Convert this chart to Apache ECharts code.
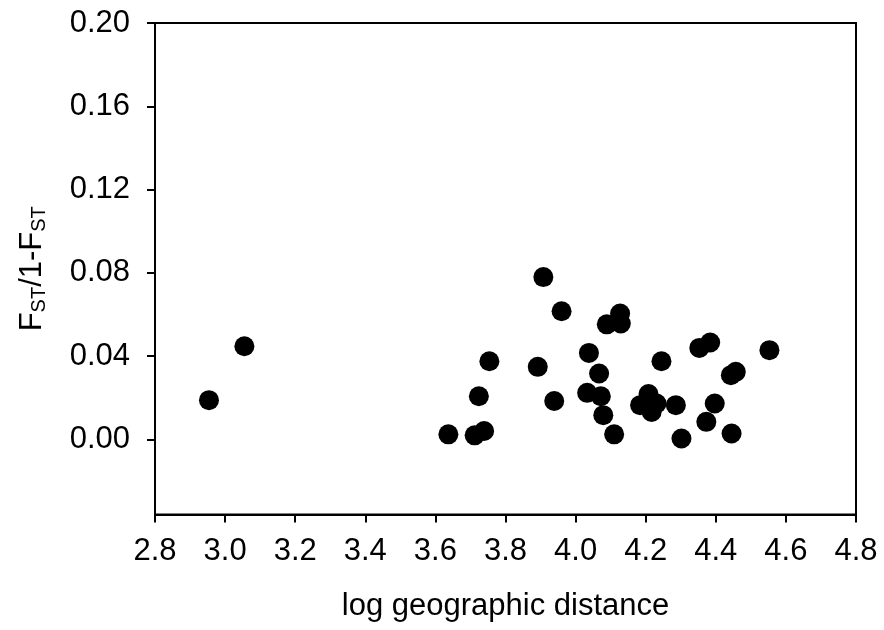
<!DOCTYPE html>
<html>
<head>
<meta charset="utf-8">
<script src="https://cdn.jsdelivr.net/npm/echarts@6/dist/echarts.min.js"></script>
<style>
html,body{margin:0;padding:0;background:#fff;}
#chart{width:884px;height:630px;}
</style>
</head>
<body>
<div id="chart"></div>
<script>
// log geographic distance
const logDistance = [2.954, 3.055, 3.637, 3.712, 3.739, 3.724, 3.754, 3.892, 3.908, 3.939,
  3.960, 4.033, 4.038, 4.067, 4.072, 4.079, 4.089, 4.110, 4.127, 4.129,
  4.184, 4.208, 4.217, 4.231, 4.245, 4.286, 4.302, 4.353, 4.373, 4.384,
  4.397, 4.443, 4.445, 4.457, 4.553];
// FST/(1-FST)
const fstRatio = [0.0189, 0.0448, 0.0025, 0.0020, 0.0041, 0.0208, 0.0376, 0.0349, 0.0780, 0.0185,
  0.0616, 0.0224, 0.0416, 0.0317, 0.0208, 0.0117, 0.0553, 0.0025, 0.0605, 0.0557,
  0.0165, 0.0218, 0.0132, 0.0173, 0.0376, 0.0165, 0.0005, 0.0440, 0.0085, 0.0466,
  0.0173, 0.0309, 0.0029, 0.0325, 0.0429];
const yTicks = [0, 0.04, 0.08, 0.12, 0.16, 0.20];
const xTicks = [2.8, 3.0, 3.2, 3.4, 3.6, 3.8, 4.0, 4.2, 4.4, 4.6, 4.8];

const points = logDistance.map((x, i) => [x, fstRatio[i]]);
const FONT = 'Liberation Sans, Arial, sans-serif';

const chart = echarts.init(document.getElementById('chart'), null, {renderer: 'canvas'});
chart.setOption({
  animation: false,
  backgroundColor: '#fff',
  grid: {
    left: 155, top: 23, width: 701, height: 491.5,
    show: true, borderColor: '#000', borderWidth: 2, backgroundColor: 'transparent'
  },
  xAxis: {
    type: 'value',
    min: xTicks[0], max: xTicks[xTicks.length - 1], interval: 0.2,
    name: 'log geographic distance',
    nameLocation: 'middle', nameGap: 76,
    nameTextStyle: {fontFamily: FONT, fontSize: 31, color: '#000'},
    axisLine: {show: true, onZero: false, lineStyle: {color: '#000', width: 2}},
    axisTick: {show: true, inside: false, length: 8, lineStyle: {color: '#000', width: 2}},
    axisLabel: {
      fontFamily: FONT, fontSize: 31, color: '#000', margin: 21,
      formatter: v => v.toFixed(1)
    },
    splitLine: {show: false}
  },
  yAxis: {
    type: 'value',
    min: -0.036, max: yTicks[yTicks.length - 1],
    name: '{m|F}{s|ST}{m|/1-F}{s|ST}',
    nameLocation: 'middle', nameGap: 104, nameRotate: 90,
    nameTextStyle: {
      fontFamily: FONT, fontSize: 31, color: '#000',
      rich: {
        m: {fontFamily: FONT, fontSize: 31, color: '#000', lineHeight: 38},
        s: {fontFamily: FONT, fontSize: 20, color: '#000', lineHeight: 38, padding: [15, 0, 0, 0]}
      }
    },
    axisLine: {show: true, onZero: false, lineStyle: {color: '#000', width: 2}},
    axisTick: {show: true, inside: false, length: 8, lineStyle: {color: '#000', width: 2}, customValues: yTicks},
    axisLabel: {
      fontFamily: FONT, fontSize: 31, color: '#000', margin: 25,
      customValues: yTicks,
      formatter: v => v.toFixed(2)
    },
    splitLine: {show: false}
  },
  series: [{
    type: 'scatter',
    data: points,
    symbol: 'circle',
    symbolSize: 20,
    itemStyle: {color: '#000', opacity: 1},
    emphasis: {disabled: true}
  }]
});
</script>
</body>
</html>
